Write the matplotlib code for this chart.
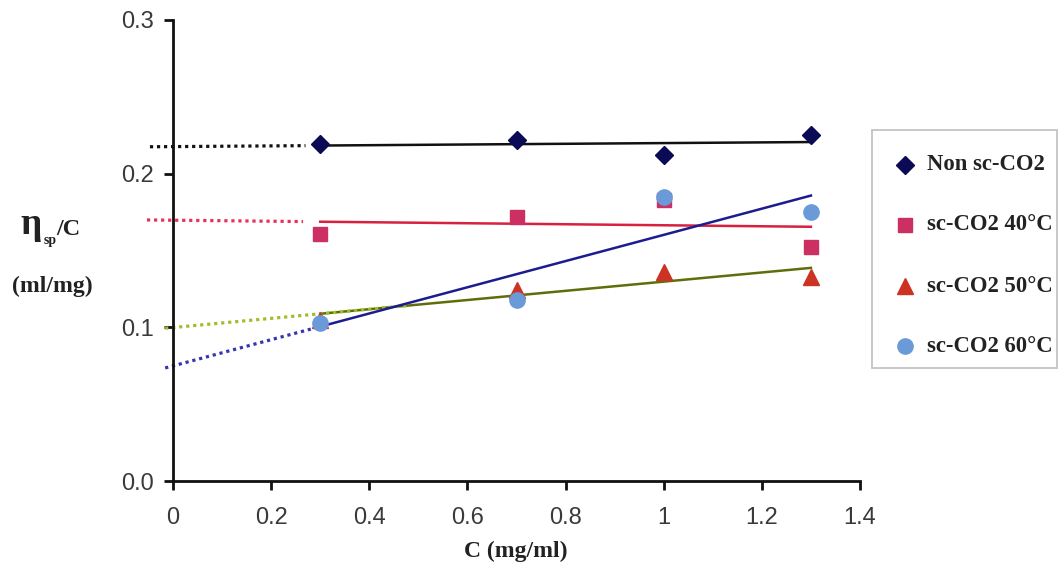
import numpy as np
import matplotlib
matplotlib.use("Agg")
import matplotlib.pyplot as plt
from matplotlib.lines import Line2D
from matplotlib.patches import Rectangle

# Reduced viscosity vs. concentration
conc = [0.3, 0.7, 1.0, 1.3]
non_sc = [0.219, 0.222, 0.212, 0.225]
sc_40 = [0.161, 0.172, 0.183, 0.152]
sc_50 = [0.105, 0.124, 0.136, 0.133]
sc_60 = [0.103, 0.118, 0.185, 0.175]

labels = ["Non sc-CO2", "sc-CO2 40\u00b0C", "sc-CO2 50\u00b0C", "sc-CO2 60\u00b0C"]
x_ticks = [0, 0.2, 0.4, 0.6, 0.8, 1.0, 1.2, 1.4]
x_ticklabels = ["0", "0.2", "0.4", "0.6", "0.8", "1", "1.2", "1.4"]
y_ticks = [0.0, 0.1, 0.2, 0.3]
y_ticklabels = ["0.0", "0.1", "0.2", "0.3"]

series = [
    # values, marker, marker colour, size, fit colour, extrapolation colour, extrapolation range
    (non_sc, "D", "#0a0a55", 9, "#111111", "#111111", (-0.047, 0.27)),
    (sc_40, "s", "#cc2f62", 10, "#d8203f", "#e8305a", (-0.053, 0.265)),
    (sc_50, "^", "#cc3322", 11.5, "#5f6e0a", "#9fbf2a", (-0.016, 0.48)),
    (sc_60, "o", "#6a9ad8", 11, "#1c1c8e", "#3535b0", (-0.016, 0.296)),
]

W, H = 1064, 568
fig = plt.figure(figsize=(W / 100, H / 100), dpi=100)
ax = fig.add_axes([173 / W, 1 - 481 / H, 687 / W, 461 / H])

x = np.array(conc)
for vals, mk, mc, ms, lc, dc, (x0, x1) in series:
    slope, icpt = np.polyfit(x, np.array(vals), 1)
    xf = np.array([x.min(), x.max()])
    ax.plot(xf, slope * xf + icpt, color=lc, lw=1.8, zorder=2)
    xe = np.array([x0, x1])
    ax.plot(xe, slope * xe + icpt, color=dc, lw=2.3, ls=(0, (1, 1.2)),
            clip_on=False, zorder=2)
    ax.plot(x, vals, ls="none", marker=mk, color=mc, ms=ms, mec=mc, zorder=3)

ax.set_xlim(0, 1.4)
ax.set_ylim(0, 0.3)
ax.set_xticks(x_ticks)
ax.set_xticklabels(x_ticklabels)
ax.set_yticks(y_ticks)
ax.set_yticklabels(y_ticklabels)
for s in ["top", "right"]:
    ax.spines[s].set_visible(False)
for s in ["left", "bottom"]:
    ax.spines[s].set_linewidth(2)
    ax.spines[s].set_color("#111111")
ax.tick_params(direction="out", length=6.5, width=2, colors="#111111",
               labelsize=17, labelcolor="#3a3a3a")
ax.tick_params(axis="x", pad=12)
ax.tick_params(axis="y", pad=7)
for t in ax.get_xticklabels() + ax.get_yticklabels():
    t.set_fontfamily("Liberation Sans")

serif_bold = dict(family="Liberation Serif", weight="bold", color="#222222")

# x-axis title
fig.text(516 / W, 1 - 551 / H, "C (mg/ml)", fontsize=17, ha="center",
         va="center", **serif_bold)

# y-axis title: eta with "sp" subscript over C, units beneath
fig.text(20 / W, 1 - 234 / H, "\u03b7", fontsize=27, ha="left", va="baseline", **serif_bold)
fig.text(44 / W, 1 - 244 / H, "sp", fontsize=10, ha="left", va="baseline", **serif_bold)
fig.text(56 / W, 1 - 235 / H, "/C", fontsize=17.5, ha="left", va="baseline", **serif_bold)
fig.text(52 / W, 1 - 286 / H, "(ml/mg)", fontsize=17, ha="center", va="center", **serif_bold)

# legend box drawn in figure pixels
fig.add_artist(Rectangle((872 / W, 1 - 368 / H), 185 / W, 238 / H,
                         transform=fig.transFigure, fill=True, facecolor="white",
                         edgecolor="#c4c4c4", lw=1.3, zorder=1))
row_y = [165, 225, 286, 346]
for (vals, mk, mc, ms, *_), lab, ry in zip(series, labels, row_y):
    fig.add_artist(Line2D([905 / W], [1 - ry / H], transform=fig.transFigure,
                          ls="none", marker=mk, color=mc, mec=mc, ms=ms))
    fig.text(927 / W, 1 - ry / H, lab, fontsize=16.3, ha="left", va="center",
             **serif_bold)

fig.savefig("out.png", dpi=100, facecolor="white")
